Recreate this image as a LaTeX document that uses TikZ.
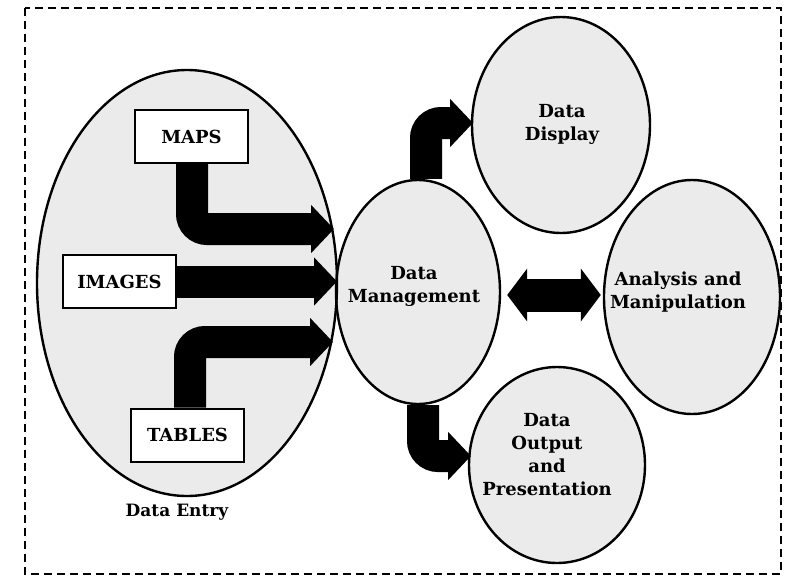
\documentclass[tikz,border=0pt]{standalone}
\usepackage{fontspec}
\setmainfont{DejaVu Serif}
\usetikzlibrary{shapes.geometric,arrows.meta}
\begin{document}
\begin{tikzpicture}[x=1pt,y=-1pt,
  txt/.style={font=\bfseries\fontsize{18}{23}\selectfont, align=center, inner sep=0pt},
  oval/.style={ellipse, draw, line width=2.4pt, inner sep=0pt},
  ovalfill/.style={fill=black!8},
  srcbox/.style={draw, line width=2pt, fill=white, minimum width=113pt, minimum height=53pt, inner sep=0pt, font=\bfseries\fontsize{18}{23}\selectfont},
  fat/.style={line width=32pt, -{Triangle[length=23pt,width=47pt]}, rounded corners=15pt},
  fatboth/.style={line width=33pt, {Triangle[length=20pt,width=52pt]}-{Triangle[length=20pt,width=52pt]}},
  border/.style={dash pattern=on 8pt off 5pt, line width=1.6pt}
]
\useasboundingbox (0,0) rectangle (787,587);
\draw[border] (25,8) rectangle (781,574);

% fills
\fill[ovalfill] (187,283) ellipse [x radius=150, y radius=213];
\fill[ovalfill] (418,292) ellipse [x radius=82, y radius=112];
\fill[ovalfill] (561,125) ellipse [x radius=89, y radius=108];
\fill[ovalfill] (692,297) ellipse [x radius=88, y radius=117];
\fill[ovalfill] (557,465) ellipse [x radius=88, y radius=98];

% outlines
\node[oval, minimum width=300pt, minimum height=426pt] (entry) at (187,283) {};
\node[oval, minimum width=164pt, minimum height=224pt] (dm) at (418,292) {};
\node[oval, minimum width=178pt, minimum height=216pt] (disp) at (561,125) {};
\node[oval, minimum width=176pt, minimum height=234pt] (ana) at (692,297) {};
\node[oval, minimum width=176pt, minimum height=196pt] (out) at (557,465) {};

% texts
\node[txt] (dmT) at (414,286) {Data\\Management};
\node[txt] (dispT) at (562,124) {Data\\Display};
\node[txt] (anaT) at (678,292) {Analysis and\\Manipulation};
\node[txt] (outT) at (547,455) {Data\\Output\\and\\Presentation};
\node[txt, font=\bfseries\fontsize{17}{23}\selectfont] (entryT) at (177,512) {Data Entry};

% boxes
\node[srcbox] (maps) at (191.5,136.5) {MAPS};
\node[srcbox] (images) at (119.5,281.5) {IMAGES};
\node[srcbox] (tables) at (187.5,435) {TABLES};

% arrows
\coordinate (t1) at (334,229);
\coordinate (t2) at (337,281.5);
\coordinate (t3) at (333,342);
\coordinate (t4) at (473,123);
\coordinate (t5) at (471,456);
\draw[fat] ([xshift=0.5pt]maps.south) |- (t1);
\draw[fat] (images.east) -- (t2);
\draw[fat] ([xshift=2.5pt]tables.north) |- (t3);
\draw[fat] ([xshift=8pt]dm.north) |- (t4);
\draw[fat] ([xshift=5pt]dm.south) |- (t5);
\draw[fatboth, shorten <=6pt, shorten >=2pt] ([yshift=-3pt]dm.east) -- ([yshift=-3pt]dm.east -| ana.west);
\end{tikzpicture}
\end{document}
